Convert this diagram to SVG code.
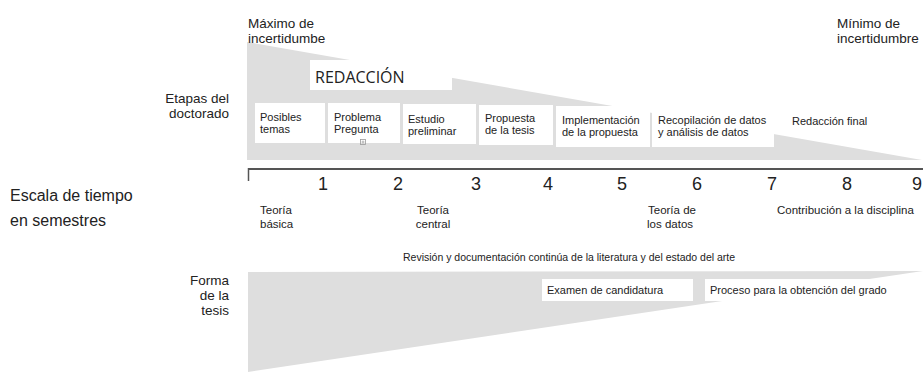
<svg xmlns="http://www.w3.org/2000/svg" width="923" height="372" viewBox="0 0 923 372">
<style>
text{font-family:"Liberation Sans",Arial,Helvetica,sans-serif;fill:#222}
.band{fill:#dedede}
.box{fill:#ffffff}
.lbl{font-size:13.5px}
.st{font-size:11px}
.th{font-size:11.5px}
.num{font-size:18px;text-anchor:middle}
.red{font-family:"Open Sans","Noto Sans",sans-serif;font-size:16px}
.ax{stroke:#555;fill:none}
</style>
<rect width="923" height="372" fill="#fff"/>
<g id="top-band">
<polygon class="band" points="247,42 922,160 247,160"/>
</g>
<g id="max-incertidumbre">
<text class="lbl" x="248" y="28">Máximo de</text>
<text class="lbl" x="248" y="43">incertidumbe</text>
</g>
<g id="min-incertidumbre">
<text class="lbl" x="837" y="28">Mínimo de</text>
<text class="lbl" x="837" y="43">incertidumbre</text>
</g>
<g id="redaccion">
<rect class="box" x="310" y="60" width="142" height="30"/>
<text class="red" x="315" y="83">REDACCIÓN</text>
</g>
<g id="etapas-label">
<text class="lbl" x="229" y="103" text-anchor="end">Etapas del</text>
<text class="lbl" x="229" y="118" text-anchor="end">doctorado</text>
</g>
<g id="posibles-temas">
<rect class="box" x="255" y="103" width="70" height="40"/>
<text class="st" x="260" y="121">Posibles</text>
<text class="st" x="260" y="133">temas</text>
</g>
<g id="problema-pregunta">
<rect class="box" x="328" y="103" width="72" height="40"/>
<text class="st" x="334" y="121">Problema</text>
<text class="st" x="334" y="133">Pregunta</text>
<rect x="360.5" y="139.5" width="5" height="5" fill="none" stroke="#999" stroke-width="0.8"/>
<path d="M363 140.5v3M361.5 142h3" stroke="#999" stroke-width="0.7"/>
</g>
<g id="estudio-preliminar">
<rect class="box" x="403" y="104" width="73" height="40"/>
<text class="st" x="408" y="123">Estudio</text>
<text class="st" x="408" y="135">preliminar</text>
</g>
<g id="propuesta-tesis">
<rect class="box" x="479" y="105" width="74" height="40"/>
<text class="st" x="485" y="122">Propuesta</text>
<text class="st" x="485" y="134">de la tesis</text>
</g>
<g id="implementacion">
<rect class="box" x="556" y="106" width="94" height="41"/>
<text class="st" x="562" y="124">Implementación</text>
<text class="st" x="562" y="136">de la propuesta</text>
</g>
<g id="recopilacion">
<rect class="box" x="652" y="107" width="122" height="40"/>
<text class="st" x="658" y="124">Recopilación de datos</text>
<text class="st" x="658" y="136">y análisis de datos</text>
</g>
<g id="redaccion-final">
<text class="st" x="792" y="125">Redacción final</text>
</g>
<g id="escala-label">
<text x="10" y="201" font-size="16">Escala de tiempo</text>
<text x="10" y="226" font-size="16">en semestres</text>
</g>
<g id="connectors">
<line class="ax" x1="248" y1="169" x2="923" y2="169" stroke-width="2"/>
<line class="ax" x1="248.5" y1="168" x2="248.5" y2="181" stroke-width="1.5"/>
</g>
<g id="semestres">
<text class="num" x="323" y="190">1</text>
<text class="num" x="398" y="190">2</text>
<text class="num" x="476" y="190">3</text>
<text class="num" x="548" y="190">4</text>
<text class="num" x="622" y="190">5</text>
<text class="num" x="697" y="190">6</text>
<text class="num" x="772" y="190">7</text>
<text class="num" x="847" y="190">8</text>
<text class="num" x="917" y="190">9</text>
</g>
<g id="teoria-basica">
<text class="th" x="260" y="214">Teoría</text>
<text class="th" x="260" y="228">básica</text>
</g>
<g id="teoria-central">
<text class="th" x="433" y="214" text-anchor="middle">Teoría</text>
<text class="th" x="433" y="228" text-anchor="middle">central</text>
</g>
<g id="teoria-datos">
<text class="th" x="648" y="214">Teoría de</text>
<text class="th" x="647" y="228">los datos</text>
</g>
<g id="contribucion">
<text class="th" x="777" y="214">Contribución a la disciplina</text>
</g>
<g id="revision">
<text x="403" y="261" font-size="10.5">Revisión y documentación continúa de la literatura y del estado del arte</text>
</g>
<g id="bottom-band">
<polygon class="band" points="248,272 923,271 248,372"/>
</g>
<g id="forma-label">
<text class="lbl" x="229" y="285" text-anchor="end">Forma</text>
<text class="lbl" x="229" y="300" text-anchor="end">de la</text>
<text class="lbl" x="229" y="315" text-anchor="end">tesis</text>
</g>
<g id="examen">
<rect class="box" x="542" y="279" width="151" height="22"/>
<text class="st" x="547" y="294">Examen de candidatura</text>
</g>
<g id="proceso">
<rect class="box" x="705" y="279" width="207" height="22"/>
<text class="st" x="710" y="294">Proceso para la obtención del grado</text>
</g>
</svg>
